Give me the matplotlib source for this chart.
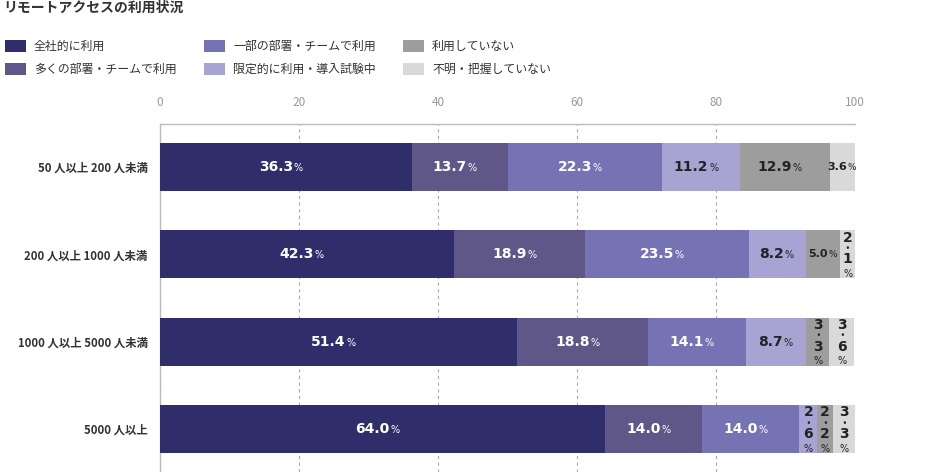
import matplotlib
matplotlib.use("Agg")
import matplotlib.pyplot as plt
from matplotlib.patches import Rectangle

plt.rcParams['font.family'] = ['Noto Sans CJK JP', 'DejaVu Sans']

title = "リモートアクセスの利用状況"
categories = ["50 人以上 200 人未満", "200 人以上 1000 人未満", "1000 人以上 5000 人未満", "5000 人以上"]
series_names = ["全社的に利用", "多くの部署・チームで利用", "一部の部署・チームで利用",
                "限定的に利用・導入試験中", "利用していない", "不明・把握していない"]
values = [
    [36.3, 13.7, 22.3, 11.2, 12.9, 3.6],
    [42.3, 18.9, 23.5, 8.2, 5.0, 2.1],
    [51.4, 18.8, 14.1, 8.7, 3.3, 3.6],
    [64.0, 14.0, 14.0, 2.6, 2.2, 3.3],
]
# label style per segment: 'h' horizontal, 's' small horizontal, 'v' vertical stacked
label_styles = [
    ['h', 'h', 'h', 'h', 'h', 's'],
    ['h', 'h', 'h', 'h', 's', 'v'],
    ['h', 'h', 'h', 'h', 'v', 'v'],
    ['h', 'h', 'h', 'v', 'v', 'v'],
]
xticks = [0, 20, 40, 60, 80, 100]

colors = ["#2f2e6b", "#5e5787", "#7673b4", "#a7a3d2", "#9d9d9d", "#d9d9d9"]
text_colors = ["white", "white", "white", "#222222", "#222222", "#222222"]
num_font = "DejaVu Sans"

W, H = 935, 472
fig = plt.figure(figsize=(W / 100, H / 100), dpi=100)

# axes: x 160..855 px, y 124..472 px
ax = fig.add_axes([160 / W, 0, (855 - 160) / W, (472 - 124) / H])
ax.set_xlim(0, 100)
ax.set_ylim(3.49, -0.49)

bar_h = 0.55
for i, row in enumerate(values):
    left = 0
    for j, v in enumerate(row):
        ax.barh(i, v, left=left, height=bar_h, color=colors[j], edgecolor='none', zorder=3)
        cx = left + v / 2
        st = label_styles[i][j]
        tc = text_colors[j]
        if st == 'h':
            ax.annotate(f"{v:.1f}", (cx, i), xytext=(5, 0), textcoords='offset points',
                        ha='right', va='center', fontsize=10, fontweight='bold', color=tc,
                        family=num_font, zorder=4)
            ax.annotate("%", (cx, i), xytext=(5.5, -0.8), textcoords='offset points',
                        ha='left', va='center', fontsize=7, color=tc, family=num_font, zorder=4)
        elif st == 's':
            ax.annotate(f"{v:.1f}", (cx, i), xytext=(3.5, 0), textcoords='offset points',
                        ha='right', va='center', fontsize=8, fontweight='bold', color=tc,
                        family=num_font, zorder=4)
            ax.annotate("%", (cx, i), xytext=(3.8, -0.5), textcoords='offset points',
                        ha='left', va='center', fontsize=6.5, color=tc, family=num_font, zorder=4)
        else:
            s = f"{v:.1f}"
            a, b = s.split(".")
            ax.annotate(a, (cx, i), xytext=(0, 12), textcoords='offset points',
                        ha='center', va='center', fontsize=10, fontweight='bold', color=tc,
                        family=num_font, zorder=4)
            ax.annotate("・", (cx, i), xytext=(0, 4), textcoords='offset points',
                        ha='center', va='center', fontsize=7, fontweight='bold', color=tc, zorder=4)
            ax.annotate(b, (cx, i), xytext=(0, -3.5), textcoords='offset points',
                        ha='center', va='center', fontsize=10, fontweight='bold', color=tc,
                        family=num_font, zorder=4)
            ax.annotate("%", (cx, i), xytext=(0, -14), textcoords='offset points',
                        ha='center', va='center', fontsize=7, color=tc, family=num_font, zorder=4)
        left += v

ax.set_xticks(xticks)
ax.set_xticklabels([str(t) for t in xticks])
ax.xaxis.tick_top()
ax.tick_params(axis='x', length=0, pad=11, labelsize=8.5, labelcolor="#999999")
ax.set_yticks(range(len(categories)))
ax.set_yticklabels(categories)
ax.tick_params(axis='y', length=0, pad=9, labelsize=8.2, labelcolor="#333333")
for lab in ax.get_yticklabels():
    lab.set_fontweight('bold')
ax.grid(axis='x', linestyle=(0, (3, 3)), color="#aaaaaa", linewidth=0.8, zorder=0)
ax.grid(axis='y', visible=False)
for s in ['right', 'bottom']:
    ax.spines[s].set_visible(False)
for s in ['top', 'left']:
    ax.spines[s].set_color("#bbbbbb")
    ax.spines[s].set_linewidth(1.0)

# title
fig.text(3 / W, 1 - 8 / H, title, ha='left', va='center', fontsize=10, fontweight='bold', color="#333333")

# legend drawn manually
col_x = [5, 204, 403]
row_y = [46, 69]
for k, name in enumerate(series_names):
    c = k // 2
    r = k % 2
    x0 = col_x[c]
    y0 = row_y[r]
    fig.patches.append(Rectangle((x0 / W, 1 - (y0 + 6) / H), 21 / W, 12 / H,
                                 transform=fig.transFigure, facecolor=colors[k], edgecolor='none'))
    fig.text((x0 + 29) / W, 1 - y0 / H, name, ha='left', va='center', fontsize=8.6, color="#333333")

fig.savefig("out.png", dpi=100)
